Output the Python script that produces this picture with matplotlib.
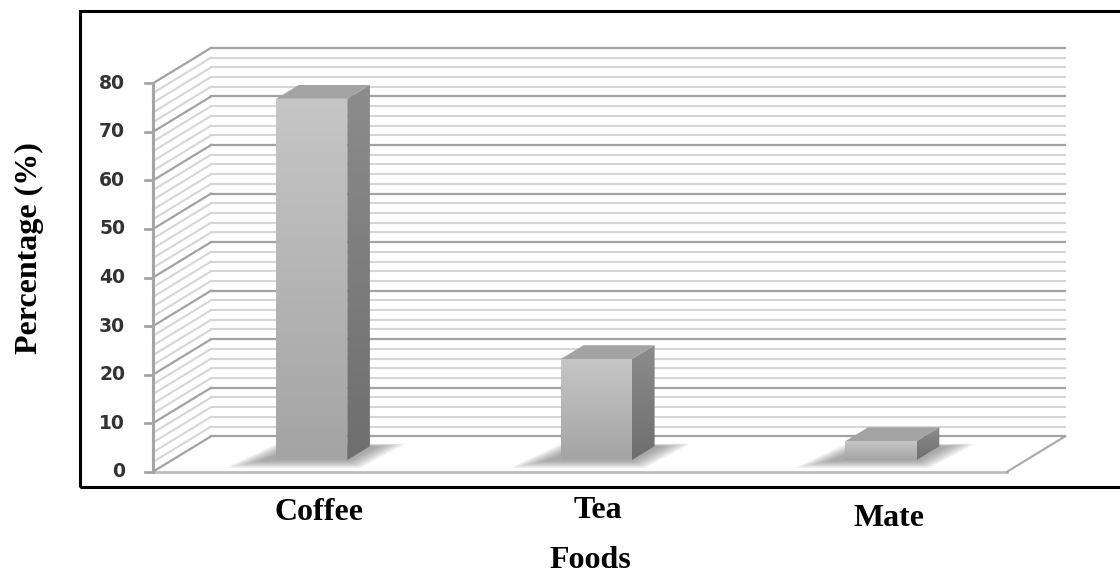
import numpy as np
import matplotlib.pyplot as plt
from matplotlib.patches import Polygon, Rectangle
from matplotlib.colors import LinearSegmentedColormap

foods = ['Coffee', 'Tea', 'Mate']
percentages = [74.4, 20.8, 3.9]
y_ticks = [0, 10, 20, 30, 40, 50, 60, 70, 80]
minor_step = 2

# oblique "3-D" projection: depth d in [0, 1] shifts right and up
DX = 0.204   # category units per unit of depth
DY = 7.29    # percent per unit of depth
BAR_W = 0.25
D0, D1 = 0.33, 0.72


def proj(x, v, d):
    return (x + d * DX, v + d * DY)


def shade(ax, pts, top, bottom, z):
    poly = Polygon(pts, closed=True, facecolor='none', edgecolor='none', zorder=z)
    ax.add_patch(poly)
    xs, ys = zip(*pts)
    cmap = LinearSegmentedColormap.from_list('face', [bottom, top])
    grad = np.linspace(0, 1, 256).reshape(-1, 1)
    im = ax.imshow(grad, extent=[min(xs), max(xs), min(ys), max(ys)], origin='lower',
                   cmap=cmap, aspect='auto', zorder=z, interpolation='bilinear')
    im.set_clip_path(poly)


fig = plt.figure(figsize=(11.2, 5.77), dpi=100)
ax = fig.add_axes([0, 0, 1, 1])
ax.axis('off')

n = len(foods)
top = y_ticks[-1]

# floor
floor = [proj(0, 0, 0), proj(n, 0, 0), proj(n, 0, 1), proj(0, 0, 1)]
ax.add_patch(Polygon(floor, closed=True, facecolor='white', edgecolor='none', zorder=0))
ax.plot(*zip(proj(0, 0, 0), proj(n, 0, 0)), color='#bdbdbd', lw=2, zorder=1)
ax.plot(*zip(proj(n, 0, 0), proj(n, 0, 1)), color='#a8a8a8', lw=1.5, zorder=1)

# gridlines on the back and side walls
for v in np.arange(0, top + minor_step, minor_step):
    major = v % 10 == 0
    c = '#a2a2a2' if major else '#d6d6d6'
    lw = 1.6 if major else 1.5
    ax.plot(*zip(proj(0, v, 1), proj(n, v, 1)), color=c, lw=lw, zorder=1)
    ax.plot(*zip(proj(0, v, 0), proj(0, v, 1)), color=c, lw=lw, zorder=1)

# value axis on the front edge
ax.plot([0, 0], [0, top], color='#a5a5a5', lw=2.2, zorder=3)
for t in y_ticks:
    ax.plot([-0.028, 0], [t, t], color='#a5a5a5', lw=2, zorder=3)
    ax.text(-0.098, t, str(t), ha='right', va='center', fontsize=13.5,
            family='DejaVu Sans', fontweight='bold', color='#333333')

# bars
for i, val in enumerate(percentages):
    xc = i + 0.49
    x0, x1 = xc - BAR_W / 2, xc + BAR_W / 2
    # soft shadow on the floor
    for k in range(7):
        e = 0.09 * (1 - k / 7)
        ed = 0.22 * (1 - k / 7)
        sh = [proj(x0 - e - 0.04, 0, D0 - ed), proj(x1 + e, 0, D0 - ed),
              proj(x1 + e + 0.02, 0, D1 + ed * 0.3), proj(x0 - e, 0, D1 + ed * 0.3)]
        ax.add_patch(Polygon(sh, closed=True, facecolor='#6a6a6a', edgecolor='none',
                             alpha=0.11, zorder=2))
    side = [proj(x1, 0, D0), proj(x1, 0, D1), proj(x1, val, D1), proj(x1, val, D0)]
    shade(ax, side, '#8c8c8c', '#6e6e6e', 4)
    lid = [proj(x0, val, D0), proj(x1, val, D0), proj(x1, val, D1), proj(x0, val, D1)]
    ax.add_patch(Polygon(lid, closed=True, facecolor='#a3a3a3', edgecolor='none', zorder=4))
    front = [proj(x0, 0, D0), proj(x1, 0, D0), proj(x1, val, D0), proj(x0, val, D0)]
    shade(ax, front, '#c6c6c6', '#a4a4a4', 5)

ax.set_xlim(-153 / 284.7, (1120 - 153) / 284.7)
ax.set_ylim(-(577 - 471.7) / 4.855, 471.7 / 4.855)


def fx(px):
    return px / 1120


def fy(py):
    return 1 - py / 577


# chart border
fig.add_artist(Rectangle((fx(80), fy(487)), 1.0, (487 - 10.5) / 577, transform=fig.transFigure,
                         facecolor='none', edgecolor='black', lw=2.2))

serif = dict(family='Liberation Serif', fontweight='bold', fontsize=23, color='black')
label_xy = [(319, 513), (598, 511), (889, 519)]
for name, (px, py) in zip(foods, label_xy):
    fig.text(fx(px), fy(py), name, ha='center', va='center', **serif)
fig.text(fx(590), fy(561), 'Foods', ha='center', va='center', **serif)
fig.text(fx(29), fy(248), 'Percentage (%)', ha='center', va='center', rotation=90, **serif)

fig.savefig('out.png', dpi=100)
